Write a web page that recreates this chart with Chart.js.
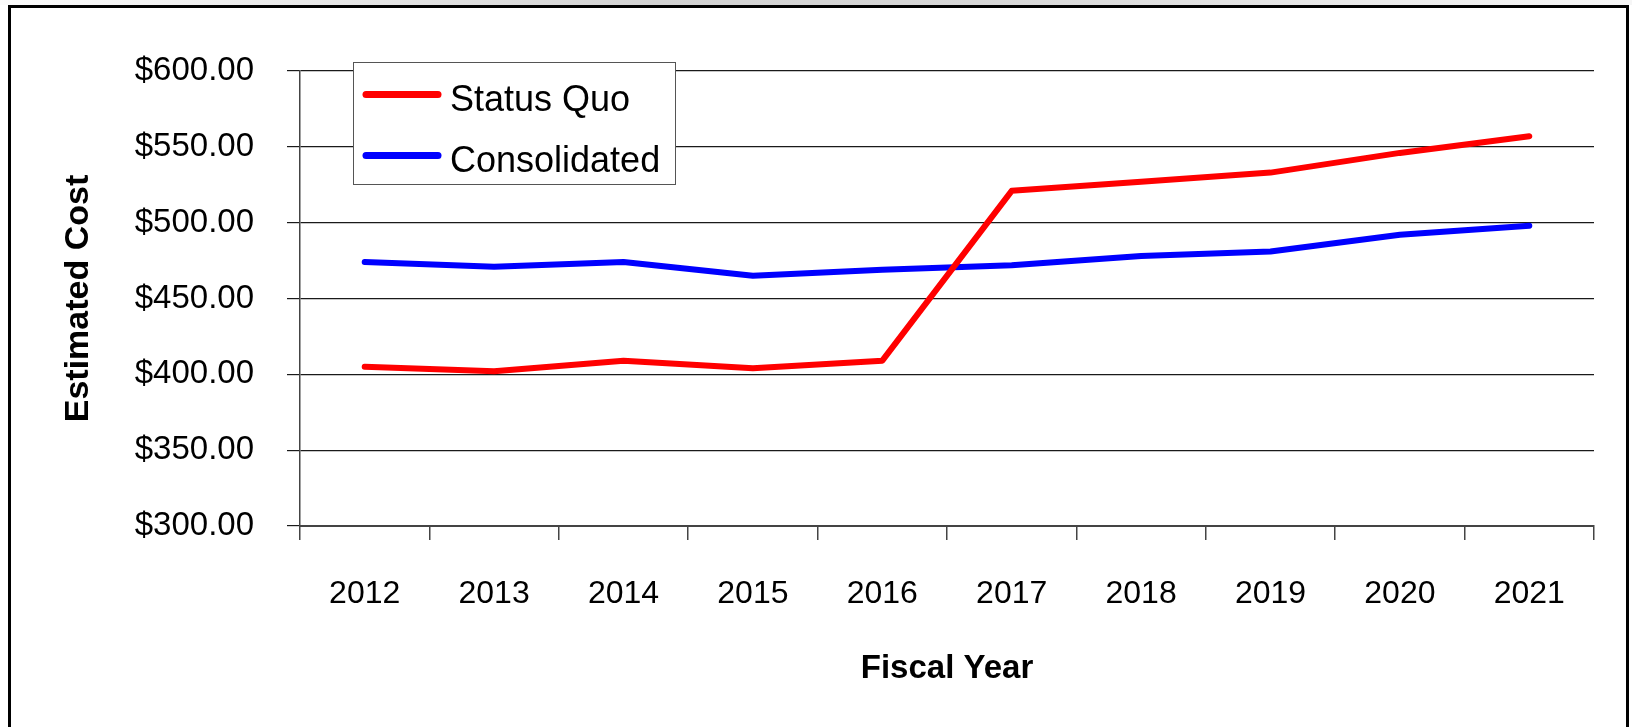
<!DOCTYPE html>
<html>
<head>
<meta charset="utf-8">
<title>Estimated Cost by Fiscal Year</title>
<script src="https://cdn.jsdelivr.net/npm/chart.js@4"></script>
<style>
  html, body { margin: 0; padding: 0; background: #fff; }
  canvas { display: block; }
</style>
</head>
<body>
<canvas id="cost" width="1632" height="727"></canvas>
<script>
// values
const years = ['2012', '2013', '2014', '2015', '2016', '2017', '2018', '2019', '2020', '2021'];
const statusQuo = [405, 402, 409, 404, 409, 521, 527, 533, 546, 557];
const consolidated = [474, 471, 474, 465, 469, 472, 478, 481, 492, 498];
const yTicks = [300, 350, 400, 450, 500, 550, 600];

const FONT = "'Liberation Sans', Arial, sans-serif";

// white page, grey strip on top and the black frame round the chart
const framePlugin = {
    id: 'frame',
    beforeDraw(chart) {
        const { ctx, width, height } = chart;
        ctx.save();
        ctx.fillStyle = '#fff';
        ctx.fillRect(0, 0, width, height);
        const g = ctx.createLinearGradient(0, 0, width, 0);
        g.addColorStop(0, '#fbfbfb');
        g.addColorStop(0.4, '#d2d2d2');
        g.addColorStop(0.6, '#d6d6d6');
        g.addColorStop(1, '#f6f6f6');
        ctx.fillStyle = g;
        ctx.fillRect(0, 0, width, 5);
        ctx.strokeStyle = '#000';
        ctx.lineWidth = 3;
        ctx.beginPath();
        ctx.moveTo(9.5, height + 5);
        ctx.lineTo(9.5, 6.5);
        ctx.lineTo(1627.5, 6.5);
        ctx.lineTo(1627.5, height + 5);
        ctx.stroke();
        ctx.restore();
    }
};

// boxed legend inside the plot, top left
const boxLegend = {
    id: 'boxLegend',
    afterDraw(chart) {
        const { ctx } = chart;
        const x = 353, y = 62, w = 322, h = 122;
        ctx.save();
        ctx.fillStyle = '#fff';
        ctx.fillRect(x, y, w, h);
        ctx.strokeStyle = '#555';
        ctx.lineWidth = 1;
        ctx.strokeRect(x + 0.5, y + 0.5, w, h);
        chart.data.datasets.forEach((ds, i) => {
            const ly = 94.5 + i * 61;
            ctx.strokeStyle = ds.borderColor;
            ctx.lineWidth = 7;
            ctx.lineCap = 'round';
            ctx.beginPath();
            ctx.moveTo(366, ly);
            ctx.lineTo(438, ly);
            ctx.stroke();
            ctx.fillStyle = '#000';
            ctx.font = '36px ' + FONT;
            ctx.textBaseline = 'middle';
            ctx.textAlign = 'left';
            ctx.fillText(ds.label, 450, ly + 7);
        });
        ctx.restore();
    }
};

new Chart(document.getElementById('cost'), {
    type: 'line',
    data: {
        labels: years,
        datasets: [
            { label: 'Status Quo', data: statusQuo, borderColor: '#ff0000' },
            { label: 'Consolidated', data: consolidated, borderColor: '#0000ff' }
        ]
    },
    options: {
        responsive: false,
        animation: false,
        layout: { padding: { top: 71, right: 38, bottom: 0, left: 0 } },
        elements: {
            line: { borderWidth: 6, tension: 0, borderCapStyle: 'round', borderJoinStyle: 'round' },
            point: { radius: 0, hoverRadius: 0 }
        },
        plugins: { legend: { display: false }, tooltip: { enabled: false } },
        scales: {
            x: {
                offset: true,
                grid: { offset: true, drawOnChartArea: false, drawTicks: true, tickLength: 14, color: '#444', lineWidth: 1.5 },
                border: { display: true, color: '#444', width: 2 },
                ticks: { color: '#000', padding: 35, font: { family: FONT, size: 32 } },
                title: { display: true, text: 'Fiscal Year', color: '#000',
                    font: { family: FONT, size: 33, weight: 'bold' }, padding: { top: 0, bottom: 38 } },
                afterFit(scale) { scale.height = 201; }
            },
            y: {
                min: 300, max: 600,
                afterBuildTicks(scale) { scale.ticks = yTicks.map(v => ({ value: v })); },
                grid: { drawTicks: true, tickLength: 13, color: '#1a1a1a', lineWidth: 1.2 },
                border: { display: true, color: '#444', width: 1.5 },
                ticks: { color: '#000', padding: 33, font: { family: FONT, size: 33 },
                    callback: v => '$' + v.toFixed(2) },
                title: { display: true, text: 'Estimated Cost', color: '#000',
                    font: { family: FONT, size: 34, weight: 'bold' }, padding: { top: 58, bottom: 0 } },
                afterFit(scale) { scale.width = 300; }
            }
        }
    },
    plugins: [framePlugin, boxLegend]
});
</script>
</body>
</html>
